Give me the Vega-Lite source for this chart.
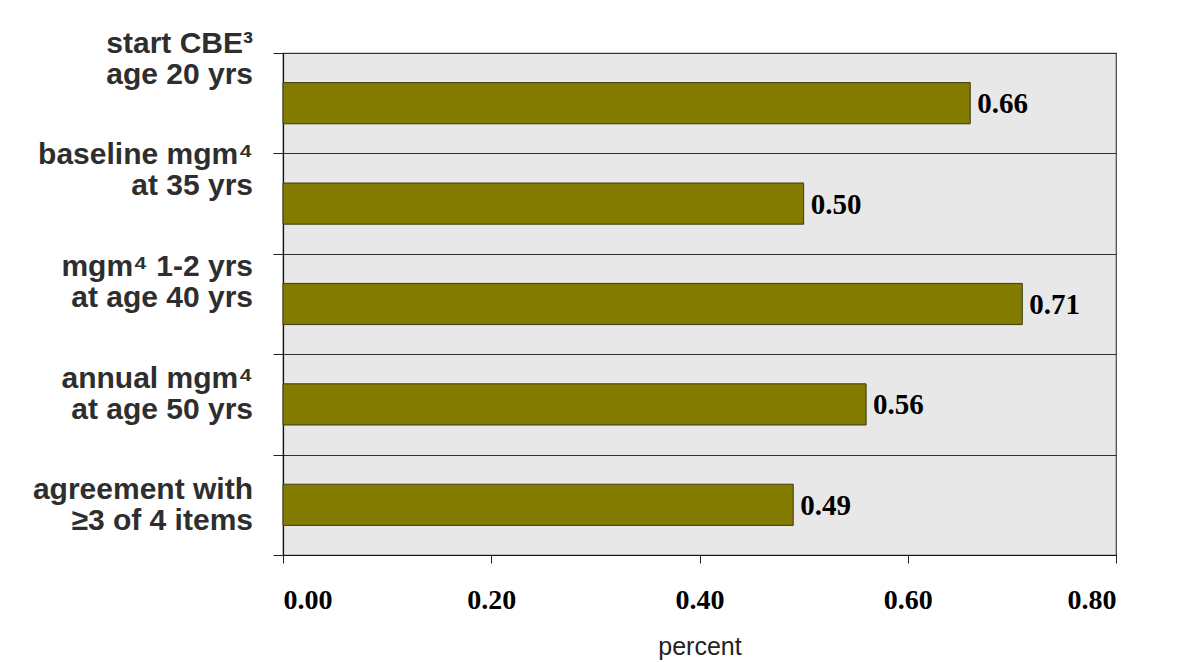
{
  "$schema": "https://vega.github.io/schema/vega-lite/v6.json",
  "width": 833,
  "height": 502,
  "autosize": "none",
  "padding": {"left": 283, "top": 53, "right": 84, "bottom": 107},
  "background": "#ffffff",
  "config": {
    "view": {"fill": "#e8e8e8", "stroke": "#444444", "strokeWidth": 1.2}
  },
  "data": {
    "values": [
      {"item": "start CBE³|age 20 yrs", "value": 0.66},
      {"item": "baseline mgm⁴|at 35 yrs", "value": 0.50},
      {"item": "mgm⁴ 1-2 yrs|at age 40 yrs", "value": 0.71},
      {"item": "annual mgm⁴|at age 50 yrs", "value": 0.56},
      {"item": "agreement with\u2005|≥3 of 4 items\u2005", "value": 0.49}
    ]
  },
  "resolve": {"scale": {"y": "independent"}, "axis": {"y": "independent"}},
  "layer": [
    {
      "encoding": {
        "y": {
          "field": "item",
          "type": "nominal",
          "sort": null,
          "scale": {"paddingInner": 0, "paddingOuter": 0},
          "axis": {
            "title": null,
            "labels": false,
            "tickBand": "extent",
            "tickSize": 10,
            "tickColor": "#222222",
            "grid": true,
            "gridColor": "#333333",
            "gridWidth": 1,
            "gridOpacity": 1,
            "domainColor": "#111111",
            "domainWidth": 1.2
          }
        },
        "x": {
          "field": "value",
          "type": "quantitative",
          "scale": {"domain": [0, 0.8], "nice": false},
          "axis": {
            "title": "percent",
            "titleFont": "Liberation Sans",
            "titleFontWeight": "normal",
            "titleFontSize": 25,
            "titleColor": "#222222",
            "titlePadding": 20,
            "values": [0, 0.2, 0.4, 0.6, 0.8],
            "format": ".2f",
            "labelFont": "Liberation Serif",
            "labelFontWeight": "bold",
            "labelFontSize": 28,
            "labelColor": "#000000",
            "labelPadding": 23,
            "tickSize": 8,
            "tickColor": "#222222",
            "grid": false,
            "domainColor": "#111111",
            "domainWidth": 1.2
          }
        }
      },
      "layer": [
        {
          "mark": {"type": "bar", "height": {"band": 0.41}, "fill": "#827b00", "stroke": "#3a3a10", "strokeWidth": 1}
        },
        {
          "mark": {"type": "text", "align": "left", "baseline": "middle", "dx": 7, "dy": 1, "font": "Liberation Serif", "fontWeight": "bold", "fontSize": 29, "color": "#000000"},
          "encoding": {
            "text": {"field": "value", "type": "quantitative", "format": ".2f"}
          }
        }
      ]
    },
    {
      "mark": {"type": "text", "align": "right", "baseline": "middle", "lineBreak": "|", "lineHeight": 31, "dx": -30, "dy": -37, "font": "Liberation Sans", "fontWeight": "bold", "fontSize": 30, "color": "#2e2e2e"},
      "encoding": {
        "y": {
          "field": "item",
          "type": "nominal",
          "sort": null,
          "scale": {"type": "point", "padding": 0.247},
          "axis": null
        },
        "x": {"datum": 0, "type": "quantitative"},
        "text": {"field": "item", "type": "nominal"}
      }
    }
  ]
}
